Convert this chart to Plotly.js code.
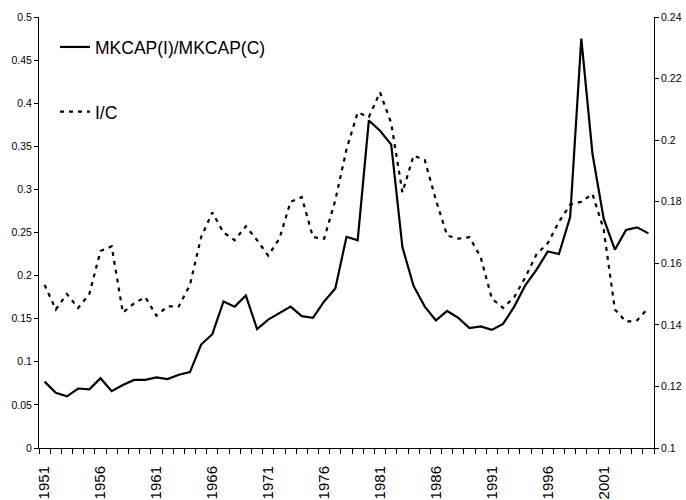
<!DOCTYPE html>
<html>
<head>
<meta charset="utf-8">
<script src="https://cdn.plot.ly/plotly-3.0.1.min.js"></script>
<style>html,body{margin:0;padding:0;background:#fff;}#chart{width:686px;height:500px;}</style>
</head>
<body>
<div id="chart"></div>
<script>
const years = [1951,1952,1953,1954,1955,1956,1957,1958,1959,1960,
  1961,1962,1963,1964,1965,1966,1967,1968,1969,1970,
  1971,1972,1973,1974,1975,1976,1977,1978,1979,1980,
  1981,1982,1983,1984,1985,1986,1987,1988,1989,1990,
  1991,1992,1993,1994,1995,1996,1997,1998,1999,2000,
  2001,2002,2003,2004,2005];

const mkcapRatio = [0.077,0.064,0.060,0.069,0.068,0.081,0.066,0.073,0.079,0.079,
  0.082,0.080,0.085,0.088,0.120,0.132,0.170,0.164,0.177,0.138,
  0.149,0.157,0.164,0.153,0.151,0.170,0.185,0.245,0.241,0.380,
  0.368,0.352,0.233,0.188,0.164,0.148,0.159,0.151,0.139,0.141,
  0.137,0.144,0.164,0.189,0.207,0.228,0.225,0.268,0.475,0.341,
  0.266,0.230,0.253,0.256,0.249];

const icRatio = [0.153,0.145,0.150,0.1455,0.150,0.164,0.1655,0.144,0.147,0.149,
  0.143,0.146,0.146,0.153,0.1685,0.1765,0.170,0.1675,0.172,0.1675,
  0.1625,0.168,0.180,0.1815,0.1685,0.168,0.1805,0.197,0.209,0.2075,
  0.2155,0.2055,0.183,0.195,0.1935,0.1805,0.169,0.168,0.1685,0.162,
  0.1485,0.1455,0.149,0.1555,0.163,0.1665,0.1735,0.179,0.180,0.1825,
  0.171,0.145,0.141,0.1415,0.1455];

const xTickVals = [1951,1956,1961,1966,1971,1976,1981,1986,1991,1996,2001];
const xTickText = ["1951","1956","1961","1966","1971","1976","1981","1986","1991","1996","2001"];

const seriesNames = ["MKCAP(I)/MKCAP(C)", "I/C"];

const traces = [
  {
    x: years, y: mkcapRatio, name: seriesNames[0], type: "scatter", mode: "lines",
    line: {color: "#000000", width: 2.2}, yaxis: "y", legendgroup: "a"
  },
  {
    x: years, y: icRatio, name: seriesNames[1], type: "scatter", mode: "lines",
    line: {color: "#000000", width: 2.2, dash: "4px,5px"}, yaxis: "y2", legendgroup: "b"
  }
];

const font = "Liberation Sans, Arial, sans-serif";

const layout = {
  width: 686, height: 500,
  margin: {l: 39, r: 32, t: 17, b: 52, pad: 0},
  paper_bgcolor: "#ffffff", plot_bgcolor: "#ffffff",
  font: {family: font, color: "#000000", size: 10},
  showlegend: true,
  legend: {
    x: 0.026, y: 0.972, xanchor: "left", yanchor: "top",
    bgcolor: "rgba(0,0,0,0)", borderwidth: 0,
    font: {family: font, size: 17.5, color: "#000000"},
    tracegroupgap: 39, traceorder: "grouped"
  },
  xaxis: {
    type: "linear", range: [1950.5, 2005.5],
    showgrid: false, zeroline: false,
    showline: true, linecolor: "#000000", linewidth: 1,
    tickmode: "array", tickvals: xTickVals, ticktext: xTickText,
    tickangle: -90, ticks: "", ticklabelstandoff: 11,
    tickfont: {family: font, size: 15, color: "#000000"},
    minor: {ticks: "outside", tickmode: "linear", tick0: 1950.5, dtick: 1,
            ticklen: 5, tickwidth: 1, tickcolor: "#000000", showgrid: false}
  },
  yaxis: {
    range: [0, 0.5], dtick: 0.05, tick0: 0,
    showgrid: false, zeroline: false,
    showline: true, linecolor: "#000000", linewidth: 1,
    ticks: "outside", ticklen: 4, tickwidth: 1, tickcolor: "#000000",
    tickfont: {family: font, size: 10.5, color: "#000000"}
  },
  yaxis2: {
    range: [0.1, 0.24], dtick: 0.02, tick0: 0.1,
    overlaying: "y", side: "right",
    showgrid: false, zeroline: false,
    showline: true, linecolor: "#000000", linewidth: 1,
    ticks: "outside", ticklen: 4, tickwidth: 1, tickcolor: "#000000",
    tickfont: {family: font, size: 10.5, color: "#000000"}
  }
};

Plotly.newPlot("chart", traces, layout, {displayModeBar: false, staticPlot: true});
</script>
</body>
</html>
